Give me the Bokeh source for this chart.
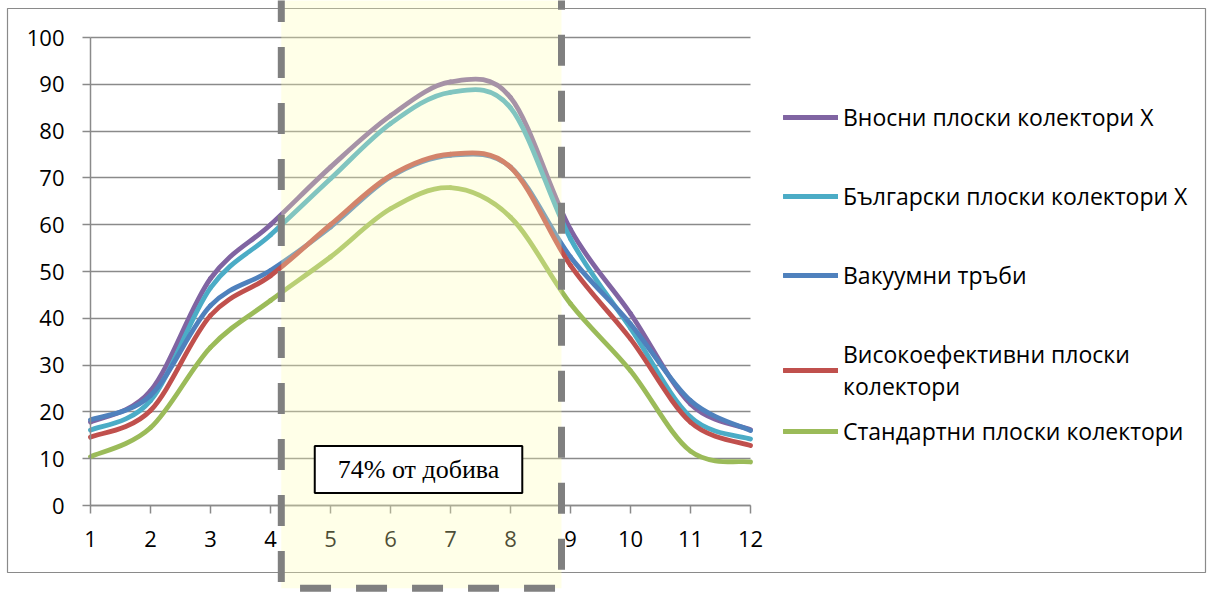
import numpy as np
from bokeh.plotting import figure
from bokeh.models import (Range1d, FixedTicker, Legend, LegendItem, BoxAnnotation, Label,
                          ColumnDataSource)
from bokeh.embed import file_html
from bokeh.resources import INLINE

# ---- data ----
months = [1, 2, 3, 4, 5, 6, 7, 8, 9, 10, 11, 12]
y_ticks = [0, 10, 20, 30, 40, 50, 60, 70, 80, 90, 100]

vnosni = [17.8, 24.5, 48.5, 60.0, 72.3, 83.3, 90.5, 87.2, 59.0, 41.0, 21.7, 16.2]
bulgarski = [16.1, 22.4, 46.5, 57.8, 69.8, 81.6, 88.3, 85.0, 57.0, 37.9, 18.9, 14.2]
vakuumni = [18.3, 23.5, 42.7, 50.2, 59.5, 70.2, 74.8, 72.3, 53.1, 38.8, 22.4, 16.0]
visokoef = [14.6, 20.3, 40.6, 49.1, 60.0, 70.5, 75.1, 72.3, 51.3, 35.6, 17.8, 12.8]
standartni = [10.4, 16.6, 33.8, 43.8, 53.1, 63.4, 67.9, 61.6, 43.1, 28.8, 11.6, 9.3]

series = [vnosni, bulgarski, vakuumni, visokoef, standartni]
names = ["Вносни плоски колектори Х",
         "Български плоски колектори Х",
         "Вакуумни тръби",
         "Високоефективни плоски\nколектори",
         "Стандартни плоски колектори"]
colors = ["#8064A2", "#4BACC6", "#4F81BD", "#C0504D", "#9BBB59"]

region_start, region_end = 4.18, 8.85
region_text = "74% от добива"

FONT = "Open Sans"
W, H = 1213, 593


def smooth(xs, ys):
    x = np.asarray(xs, float)
    y = np.asarray(ys, float)
    xp = np.concatenate([[x[0]], x, [x[-1]]])
    yp = np.concatenate([[y[0]], y, [y[-1]]])
    n = len(x) - 1
    return dict(
        x0=x[:-1], y0=y[:-1], x1=x[1:], y1=y[1:],
        cx0=xp[1:n + 1] + (xp[2:n + 2] - xp[0:n]) / 6,
        cy0=yp[1:n + 1] + (yp[2:n + 2] - yp[0:n]) / 6,
        cx1=xp[2:n + 2] - (xp[3:n + 3] - xp[1:n + 1]) / 6,
        cy1=yp[2:n + 2] - (yp[3:n + 3] - yp[1:n + 1]) / 6,
    )


# frame = whole canvas; month 1 at 90 px, 12 at 750 px; value 0 at 505 px, 100 at 37 px
PX_X = 60.0
PX_Y = 4.68
x_lo = 1 - 90 / PX_X
x_hi = 1 + (W - 90) / PX_X
y_hi = 505 / PX_Y
y_lo = -(H - 505) / PX_Y

p = figure(width=W, height=H, output_backend="svg", toolbar_location=None,
           x_range=Range1d(x_lo, x_hi), y_range=Range1d(y_lo, y_hi),
           min_border_left=0, min_border_right=0, min_border_top=0, min_border_bottom=0)
p.outline_line_color = None
p.background_fill_color = "white"
p.border_fill_color = "white"

GRAY = "#8a8a8a"

outer = BoxAnnotation(left=7, right=1205, top=H - 8, bottom=H - 572,
                      left_units="screen", right_units="screen", top_units="screen", bottom_units="screen",
                      fill_color=None, fill_alpha=0, line_color=GRAY, line_width=1.2, line_alpha=1,
                      level="underlay")
p.add_layout(outer)

p.xgrid.visible = False
p.ygrid.ticker = FixedTicker(ticks=y_ticks)
p.ygrid.grid_line_color = GRAY
p.ygrid.grid_line_width = 1.5
p.ygrid.cross_bounds = (months[0], months[-1])

for ax in (p.xaxis[0], p.yaxis[0]):
    ax.axis_line_color = GRAY
    ax.axis_line_width = 1.5
    ax.major_tick_line_color = GRAY
    ax.major_tick_line_width = 1.5
    ax.major_tick_in = 0
    ax.major_tick_out = 8
    ax.minor_tick_line_color = None
    ax.major_label_text_font = FONT
    ax.major_label_text_font_size = "22px"
    ax.major_label_text_color = "#000000"
p.xaxis.ticker = FixedTicker(ticks=months)
p.yaxis.ticker = FixedTicker(ticks=y_ticks)
p.xaxis.bounds = (months[0], months[-1])
p.yaxis.bounds = (0, 100)
p.xaxis.fixed_location = 0
p.yaxis.fixed_location = months[0]
p.xaxis.major_label_standoff = 17
p.yaxis.major_label_standoff = 18

items = []
for vals, name, col in zip(series, names, colors):
    src = ColumnDataSource(smooth(months, vals))
    r = p.bezier(x0="x0", y0="y0", x1="x1", y1="y1", cx0="cx0", cy0="cy0", cx1="cx1", cy1="cy1",
                 source=src, line_color=col, line_width=4.8, line_cap="round")
    items.append(LegendItem(label=name, renderers=[r]))

region = BoxAnnotation(left=region_start, right=region_end, bottom=-17.7, top=112.5,
                       fill_color="#FFFFB2", fill_alpha=0.3,
                       line_color="#808080", line_alpha=1, line_width=7, line_dash="31 25")
p.add_layout(region)

lab = Label(x=6.467, y=7.69, text=region_text, text_align="center", text_baseline="middle",
            text_font="Liberation Serif", text_font_size="26px", text_color="#000000",
            background_fill_color="white", background_fill_alpha=1,
            border_line_color="black", border_line_width=2, padding=(23, 9))
p.add_layout(lab)

leg_style = dict(orientation="vertical", glyph_width=55, glyph_height=30, label_height=30, spacing=47,
                 padding=0, margin=0, border_line_color=None, background_fill_alpha=0,
                 label_text_font=FONT, label_text_font_size="23px", label_text_color="#000000",
                 label_standoff=5)
legend_a = Legend(items=items[:4], location=(783, 191), **leg_style)
legend_b = Legend(items=items[4:], location=(783, 146), **leg_style)
p.add_layout(legend_a, "center")
p.add_layout(legend_b, "center")

open("out.html", "w").write(file_html(p, INLINE))
